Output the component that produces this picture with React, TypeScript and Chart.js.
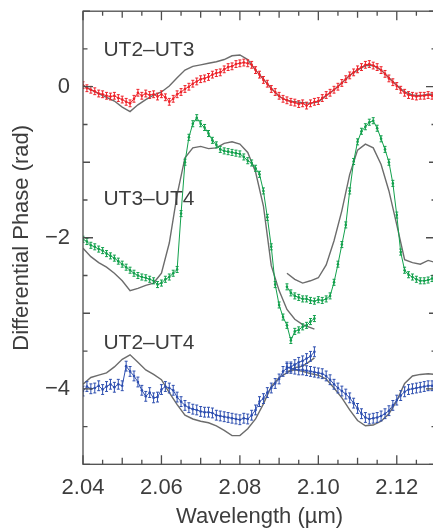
import React, { useEffect, useRef } from 'react';
import { Chart, registerables } from 'chart.js';

Chart.register(...registerables);

// ---------- data ----------
const wl = [
  2.040, 2.041, 2.042, 2.043, 2.044, 2.045, 2.046, 2.047, 2.048, 2.049,
  2.050, 2.051, 2.052, 2.053, 2.054, 2.055, 2.056, 2.057, 2.058, 2.059,
  2.060, 2.061, 2.062, 2.063, 2.064, 2.065, 2.066, 2.067, 2.068, 2.069,
  2.070, 2.071, 2.072, 2.073, 2.074, 2.075, 2.076, 2.077, 2.078, 2.079,
  2.080, 2.081, 2.082, 2.083, 2.084, 2.085, 2.086, 2.087, 2.088, 2.089,
  2.090, 2.091, 2.092, 2.093, 2.094, 2.095, 2.096, 2.097, 2.098, 2.099,
  2.100, 2.101, 2.102, 2.103, 2.104, 2.105, 2.106, 2.107, 2.108, 2.109,
  2.110, 2.111, 2.112, 2.113, 2.114, 2.115, 2.116, 2.117, 2.118, 2.119,
  2.120, 2.121, 2.122, 2.123, 2.124, 2.125, 2.126, 2.127, 2.128, 2.129,
  2.130,
];
const wlA = wl.slice(0, 60);
const wlB = wl.slice(52);

const wlModel = [
  2.040, 2.042, 2.044, 2.046, 2.048, 2.050, 2.052, 2.054, 2.056, 2.058,
  2.060, 2.062, 2.064, 2.066, 2.068, 2.070, 2.072, 2.074, 2.076, 2.078,
  2.080, 2.082, 2.084, 2.086, 2.088, 2.090, 2.092, 2.094, 2.096, 2.098,
  2.100, 2.102, 2.104, 2.106, 2.108, 2.110, 2.112, 2.114, 2.116, 2.118,
  2.120, 2.122, 2.124, 2.126, 2.128, 2.130,
];
const wlModelA = [
  2.040, 2.042, 2.044, 2.046, 2.048, 2.050, 2.052, 2.054, 2.056, 2.058,
  2.060, 2.062, 2.064, 2.066, 2.068, 2.070, 2.072, 2.074, 2.076, 2.078,
  2.080, 2.082, 2.084, 2.086, 2.088, 2.090, 2.092, 2.094, 2.096, 2.098,
  2.099,
];
const wlModelB = [
  2.092, 2.094, 2.096, 2.098, 2.100, 2.102, 2.104, 2.106, 2.108, 2.110,
  2.112, 2.114, 2.116, 2.118, 2.120, 2.122, 2.124, 2.126, 2.128, 2.130,
];

// UT2–UT3 (red)
const ut23 = [
  0.02, -0.02, -0.04, -0.06, -0.09, -0.10, -0.12, -0.13, -0.12, -0.15,
  -0.17, -0.20, -0.22, -0.16, -0.08, -0.12, -0.09, -0.11, -0.10, -0.13,
  -0.10, -0.14, -0.20, -0.16, -0.10, -0.07, -0.03, 0.00, 0.04, 0.07,
  0.10, 0.11, 0.13, 0.16, 0.18, 0.19, 0.23, 0.26, 0.27, 0.30,
  0.31, 0.32, 0.31, 0.29, 0.22, 0.16, 0.09, 0.04, -0.03, -0.07,
  -0.12, -0.16, -0.18, -0.20, -0.21, -0.23, -0.22, -0.25, -0.22, -0.20,
  -0.19, -0.15, -0.11, -0.08, -0.04, 0.00, 0.05, 0.10, 0.15, 0.19,
  0.23, 0.26, 0.29, 0.30, 0.28, 0.26, 0.22, 0.17, 0.11, 0.06,
  0.01, -0.04, -0.08, -0.11, -0.12, -0.13, -0.12, -0.12, -0.11, -0.12,
  -0.11,
];
const ut23Model = [
  0.02, -0.04, -0.09, -0.14, -0.19, -0.27, -0.33, -0.24, -0.17, -0.11,
  -0.07, 0.01, 0.12, 0.22, 0.27, 0.29, 0.31, 0.33, 0.36, 0.41,
  0.42, 0.36, 0.22, 0.10, -0.02, -0.13, -0.18, -0.20, -0.21, -0.22,
  -0.20, -0.12, -0.04, 0.05, 0.15, 0.22, 0.28, 0.28, 0.22, 0.12,
  0.02, -0.07, -0.11, -0.12, -0.10, -0.10,
];

// UT3–UT4 (green)
const ut34A = [
  -2.02, -2.05, -2.10, -2.12, -2.15, -2.17, -2.21, -2.24, -2.27, -2.31,
  -2.35, -2.39, -2.43, -2.47, -2.50, -2.52, -2.53, -2.55, -2.57, -2.62,
  -2.60, -2.55, -2.52, -2.47, -2.42, -1.68, -1.00, -0.67, -0.49, -0.41,
  -0.49, -0.54, -0.62, -0.71, -0.77, -0.83, -0.85, -0.86, -0.87, -0.88,
  -0.89, -0.93, -0.98, -1.01, -1.08, -1.16, -1.38, -1.73, -2.12, -2.62,
  -2.89, -3.05, -3.16, -3.36, -3.24, -3.22, -3.18, -3.16, -3.11, -3.07,
];
const ut34B = [
  -2.65, -2.73, -2.77, -2.79, -2.81, -2.81, -2.83, -2.84, -2.82, -2.83,
  -2.81, -2.77, -2.59, -2.35, -2.09, -1.83, -1.38, -0.99, -0.73, -0.59,
  -0.53, -0.47, -0.45, -0.55, -0.69, -0.83, -1.00, -1.28, -1.70, -2.19,
  -2.43, -2.49, -2.52, -2.55, -2.57, -2.57, -2.56, -2.54, -2.53,
];
const ut34ModelA = [
  -2.14, -2.25, -2.33, -2.39, -2.47, -2.57, -2.70, -2.67, -2.63, -2.60,
  -2.47, -2.07, -1.43, -0.94, -0.81, -0.79, -0.82, -0.81, -0.75, -0.73,
  -0.76, -0.87, -1.13, -1.58, -2.37, -2.70, -2.95, -3.08, -3.15, -3.19,
  -3.21,
];
const ut34ModelB = [
  -2.47, -2.55, -2.60, -2.57, -2.53, -2.36, -2.04, -1.64, -1.16, -0.84,
  -0.76, -0.81, -1.03, -1.38, -1.83, -2.29, -2.33, -2.35, -2.30, -2.33,
];

// UT2–UT4 (blue)
const ut24A = [
  -4.03, -3.97, -4.00, -3.99, -3.96, -4.01, -3.97, -3.94, -3.98, -3.94,
  -3.96, -3.70, -3.77, -3.83, -3.91, -4.02, -4.10, -4.05, -4.12, -4.11,
  -4.01, -3.97, -3.99, -4.02, -4.11, -4.17, -4.22, -4.25, -4.27, -4.28,
  -4.30, -4.31, -4.31, -4.32, -4.35, -4.36, -4.37, -4.38, -4.39, -4.40,
  -4.41, -4.39, -4.40, -4.35, -4.28, -4.17, -4.13, -4.05, -3.99, -3.93,
  -3.87, -3.77, -3.73, -3.71, -3.68, -3.65, -3.63, -3.60, -3.57, -3.51,
];
const ut24B = [
  -3.71, -3.73, -3.74, -3.75, -3.75, -3.76, -3.77, -3.78, -3.79, -3.80,
  -3.83, -3.88, -3.94, -3.99, -4.03, -4.07, -4.12, -4.19, -4.26, -4.33,
  -4.38, -4.40, -4.39, -4.38, -4.36, -4.33, -4.29, -4.22, -4.15, -4.09,
  -4.04, -4.01, -4.00, -3.99, -3.98, -3.97, -3.96, -3.96, -3.96,
];
const ut24ModelA = [
  -3.94, -3.85, -3.82, -3.79, -3.71, -3.61, -3.55, -3.65, -3.75, -3.81,
  -3.88, -4.05, -4.21, -4.35, -4.40, -4.43, -4.45, -4.49, -4.55, -4.62,
  -4.62, -4.53, -4.40, -4.20, -3.97, -3.85, -3.79, -3.72, -3.70, -3.63,
  -3.59,
];
const ut24ModelB = [
  -3.77, -3.75, -3.77, -3.80, -3.82, -3.87, -3.99, -4.12, -4.28, -4.42,
  -4.49, -4.48, -4.43, -4.33, -4.16, -3.93, -3.83, -3.81, -3.80, -3.81,
];

// error bar half-heights (rad)
const errUt23 = 0.045;
const errUt34 = 0.04;
const errUt24 = 0.065;

// baseline labels
const baselineNames = ['UT2\u2013UT3', 'UT3\u2013UT4', 'UT2\u2013UT4'];
const baselineLabelY = [0.48, -1.495, -3.39];
const baselineLabelX = 2.0452;

// axis labels
const xTitle = 'Wavelength (\u00b5m)';
const yTitle = 'Differential Phase (rad)';

// ---------- styling ----------
const FONT = '"Liberation Sans", Arial, Helvetica, sans-serif';
const TEXT = '#3d3d3d';
const AXIS = '#4d4d4d';
const RED = '#ee2229';
const GREEN = '#12a04c';
const BLUE = '#2e4fb0';
const MODEL = '#6c6c6c';

const pts = (xs: number[], ys: number[]) => ys.map((y, i) => ({ x: xs[i], y }));

const dataSet = (xs: number[], ys: number[], color: string, err: number) => ({
  data: pts(xs, ys),
  borderColor: color,
  backgroundColor: color,
  borderWidth: 1,
  pointRadius: 1.3,
  pointBorderWidth: 0,
  pointBackgroundColor: color,
  tension: 0,
  fill: false,
  errorBar: err,
});

const modelSet = (xs: number[], ys: number[]) => ({
  data: pts(xs, ys),
  borderColor: MODEL,
  backgroundColor: MODEL,
  borderWidth: 1.4,
  pointRadius: 0,
  tension: 0,
  fill: false,
});

const framePlugin = {
  id: 'frameTicksLabels',
  afterDatasetsDraw(chart: any) {
    const { ctx, chartArea } = chart;
    const xs = chart.scales.x;
    const ys = chart.scales.y;
    ctx.save();
    ctx.beginPath();
    ctx.rect(chartArea.left, chartArea.top, chartArea.right - chartArea.left, chartArea.bottom - chartArea.top);
    ctx.clip();
    chart.data.datasets.forEach((ds: any) => {
      const err = ds.errorBar;
      if (!err) return;
      ctx.strokeStyle = ds.borderColor;
      ctx.lineWidth = 1;
      ctx.beginPath();
      ds.data.forEach((p: any) => {
        const px = xs.getPixelForValue(p.x);
        const y1 = ys.getPixelForValue(p.y + err);
        const y2 = ys.getPixelForValue(p.y - err);
        ctx.moveTo(px, y1);
        ctx.lineTo(px, y2);
        ctx.moveTo(px - 1.5, y1);
        ctx.lineTo(px + 1.5, y1);
        ctx.moveTo(px - 1.5, y2);
        ctx.lineTo(px + 1.5, y2);
      });
      ctx.stroke();
    });
    ctx.restore();
  },
  afterDraw(chart: any) {
    const { ctx, chartArea } = chart;
    const { left, right, top, bottom } = chartArea;
    const xs = chart.scales.x;
    const ys = chart.scales.y;
    ctx.save();
    ctx.strokeStyle = AXIS;
    ctx.lineWidth = 1.3;
    ctx.strokeRect(left, top, right - left, bottom - top);
    ctx.beginPath();
    xs.ticks.forEach((t: any) => {
      const v = t.value;
      const m = Math.round(v * 1000);
      const len = m % 20 === 0 ? 9 : m % 10 === 0 ? 6.5 : 4.5;
      const px = xs.getPixelForValue(v);
      ctx.moveTo(px, bottom);
      ctx.lineTo(px, bottom - len);
      ctx.moveTo(px, top);
      ctx.lineTo(px, top + len);
    });
    ys.ticks.forEach((t: any) => {
      const v = t.value;
      const isInt = Math.abs(v - Math.round(v)) < 1e-6;
      const len = isInt && Math.round(v) % 2 === 0 ? 10 : isInt ? 7 : 4.5;
      const py = ys.getPixelForValue(v);
      ctx.moveTo(left, py);
      ctx.lineTo(left + len, py);
      ctx.moveTo(right, py);
      ctx.lineTo(right - len, py);
    });
    ctx.stroke();
    ctx.fillStyle = TEXT;
    ctx.font = `21px ${FONT}`;
    ctx.textAlign = 'left';
    ctx.textBaseline = 'middle';
    baselineNames.forEach((name, i) => {
      ctx.fillText(name, xs.getPixelForValue(baselineLabelX), ys.getPixelForValue(baselineLabelY[i]));
    });
    ctx.restore();
  },
};

export default function App() {
  const ref = useRef<HTMLCanvasElement | null>(null);

  useEffect(() => {
    if (!ref.current) return;
    const chart = new Chart(ref.current, {
      type: 'line',
      data: {
        datasets: [
          dataSet(wl, ut23, RED, errUt23),
          dataSet(wlA, ut34A, GREEN, errUt34),
          dataSet(wlB, ut34B, GREEN, errUt34),
          dataSet(wlA, ut24A, BLUE, errUt24),
          dataSet(wlB, ut24B, BLUE, errUt24),
          modelSet(wlModel, ut23Model),
          modelSet(wlModelA, ut34ModelA),
          modelSet(wlModelB, ut34ModelB),
          modelSet(wlModelA, ut24ModelA),
          modelSet(wlModelB, ut24ModelB),
        ] as any,
      },
      options: {
        animation: false,
        responsive: true,
        maintainAspectRatio: false,
        layout: { padding: { top: 11.2, right: 9, left: 0, bottom: 0 } },
        plugins: { legend: { display: false }, tooltip: { enabled: false } },
        scales: {
          x: {
            type: 'linear',
            min: 2.04,
            max: 2.13,
            afterFit: (s: any) => {
              s.height = 63.7;
              s.paddingLeft = 0;
              s.paddingRight = 0;
            },
            grid: { display: false, drawTicks: false },
            border: { display: false },
            ticks: {
              stepSize: 0.005,
              autoSkip: false,
              maxRotation: 0,
              padding: 10,
              color: TEXT,
              font: { family: FONT, size: 22 },
              callback: (v: any) => (Math.round(Number(v) * 1000) % 20 === 0 ? Number(v).toFixed(2) : ''),
            },
            title: {
              display: true,
              text: xTitle,
              color: TEXT,
              font: { family: FONT, size: 22, lineHeight: 1 },
              padding: { top: 0, bottom: 0 },
            },
          },
          y: {
            type: 'linear',
            min: -5,
            max: 1,
            afterFit: (s: any) => {
              s.width = 83;
              s.paddingTop = 0;
              s.paddingBottom = 0;
            },
            grid: { display: false, drawTicks: false },
            border: { display: false },
            ticks: {
              stepSize: 0.5,
              autoSkip: false,
              padding: 13,
              color: TEXT,
              font: { family: FONT, size: 22 },
              callback: (v: any) => {
                const n = Number(v);
                if (Math.abs(n - Math.round(n)) > 1e-6 || Math.round(n) % 2 !== 0) return '';
                return n < 0 ? '\u2212' + Math.abs(n) : String(Math.round(n));
              },
            },
            title: {
              display: true,
              text: yTitle,
              color: TEXT,
              font: { family: FONT, size: 22, lineHeight: 1.2 },
              padding: { top: 9, bottom: 0 },
            },
          },
        },
      } as any,
      plugins: [framePlugin],
    });
    return () => chart.destroy();
  }, []);

  return (
    <div style={{ position: 'fixed', left: 0, top: 0, width: 433, height: 528, overflow: 'hidden', background: '#fff' }}>
      <div style={{ position: 'relative', width: 445, height: 528 }}>
        <canvas ref={ref} />
      </div>
    </div>
  );
}
